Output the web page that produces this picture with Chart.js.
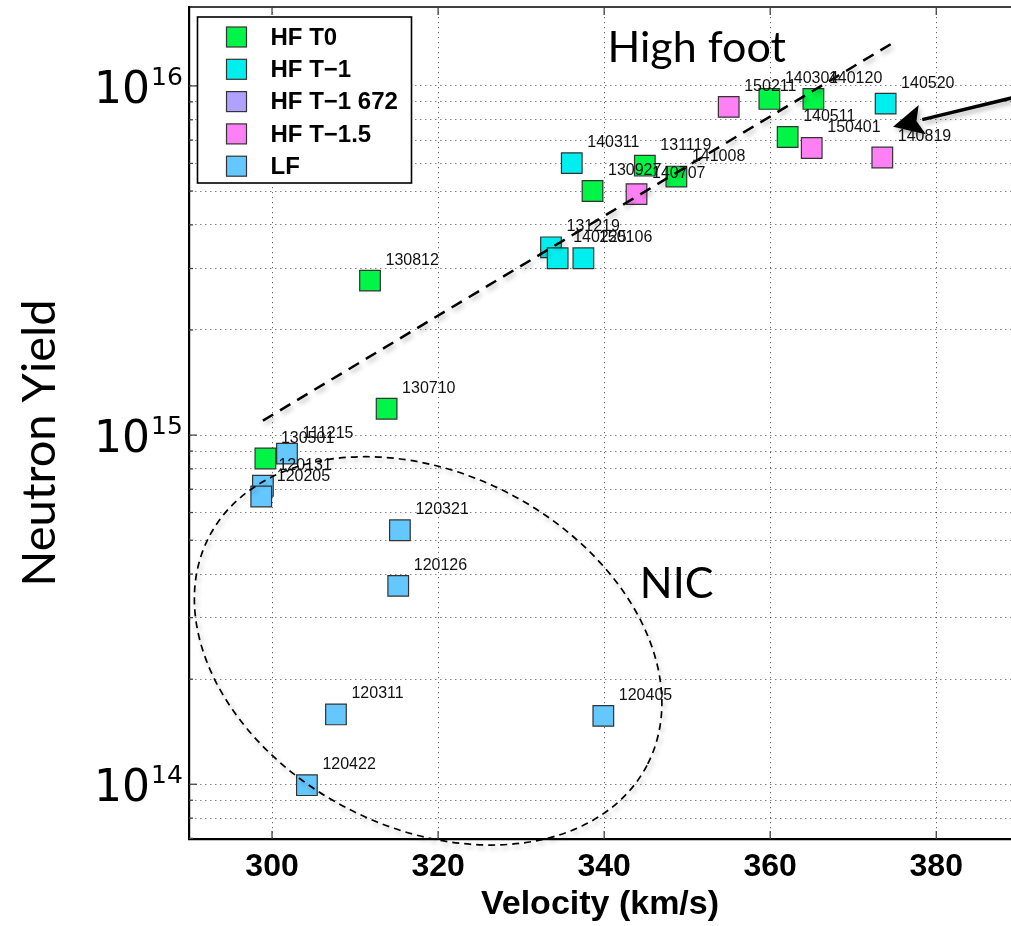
<!DOCTYPE html>
<html>
<head>
<meta charset="utf-8">
<script src="https://cdn.jsdelivr.net/npm/chart.js"></script>
<style>
  html, body { margin: 0; padding: 0; background: #fff; }
</style>
</head>
<body>
<canvas id="myChart" width="1011" height="926"></canvas>
<script>
// axis ticks
const xTicks = [300, 320, 340, 360, 380];
const yMajorTicks = [1e14, 1e15, 1e16];
const yMinorSteps = [2, 3, 4, 5, 6, 7, 8, 9];

// HF T0
const hfT0Shots = ['140304', '140120', '140511', '131119', '141008', '130927', '130812', '130710', '130501'];
const hfT0Velocity = [359.9, 365.2, 362.1, 344.9, 348.7, 338.6, 311.8, 313.8, 299.2];
const hfT0Yield = [9.18e15, 9.18e15, 7.14e15, 5.91e15, 5.50e15, 5.00e15, 2.77e15, 1.19e15, 8.57e14];

// HF T-1
const hfT1Shots = ['140520', '140311', '131219', '140225', '150106'];
const hfT1Velocity = [373.9, 336.1, 333.6, 334.4, 337.5];
const hfT1Yield = [8.90e15, 6.01e15, 3.45e15, 3.21e15, 3.21e15];

// HF T-1 672 (legend only)
const hfT1672Shots = [];
const hfT1672Velocity = [];
const hfT1672Yield = [];

// HF T-1.5
const hfT15Shots = ['150211', '150401', '140819', '140707'];
const hfT15Velocity = [355.0, 365.0, 373.5, 343.9];
const hfT15Yield = [8.71e15, 6.64e15, 6.24e15, 4.90e15];

// LF
const lfShots = ['111215', '120131', '120205', '120321', '120126', '120311', '120405', '120422'];
const lfVelocity = [301.8, 298.9, 298.7, 315.4, 315.2, 307.7, 339.9, 304.2];
const lfYield = [8.85e14, 7.16e14, 6.67e14, 5.34e14, 3.70e14, 1.585e14, 1.57e14, 9.94e13];

// "High foot" trend line
const fitVelocity = [298.9, 374.7];
const fitYield = [1.10e15, 1.325e16];

// annotations (data coords)
const arrowTail = [390, 9.35e15];
const arrowTip = [374.8, 7.645e15];
const nicCenter = [318.8, 2.41e14];
const highFootPos = [340.4, 1.17e16];
const nicPos = [344.3, 3.42e14];

const pts = (xs, ys) => xs.map((x, i) => ({x: x, y: ys[i]}));

function series(label, xs, ys, shots, color) {
  return {
    label: label,
    data: pts(xs, ys),
    shots: shots,
    inLegend: true,
    pointStyle: 'rect',
    pointRadius: 14.6,
    pointHoverRadius: 14.6,
    backgroundColor: color,
    borderColor: '#333',
    borderWidth: 1.2
  };
}

const overlay = {
  id: 'overlay',
  beforeDatasetDraw(chart, args) {
    const ds = chart.data.datasets[args.index];
    if (ds.shadow) {
      const ctx = chart.ctx;
      ctx.save();
      ctx.shadowColor = 'rgba(0,0,0,0.3)';
      ctx.shadowBlur = 5;
      ctx.shadowOffsetX = 2;
      ctx.shadowOffsetY = 3;
    }
  },
  afterDatasetDraw(chart, args) {
    const ds = chart.data.datasets[args.index];
    if (ds.shadow) chart.ctx.restore();
  },
  afterDatasetsDraw(chart) {
    const ctx = chart.ctx;
    ctx.save();
    ctx.font = '16px "Liberation Sans", Arial, sans-serif';
    ctx.fillStyle = '#111';
    ctx.textAlign = 'left';
    ctx.textBaseline = 'alphabetic';
    chart.data.datasets.forEach((ds, i) => {
      if (!ds.shots) return;
      chart.getDatasetMeta(i).data.forEach((el, j) => {
        ctx.fillText(ds.shots[j], el.x + 15.5, el.y - 16);
      });
    });
    ctx.restore();
  },
  afterDraw(chart) {
    const ctx = chart.ctx;
    const a = chart.chartArea;
    const xs = chart.scales.x, ys = chart.scales.y;
    ctx.save();

    // top border
    ctx.strokeStyle = '#000';
    ctx.lineWidth = 1.5;
    ctx.beginPath();
    ctx.moveTo(a.left, a.top);
    ctx.lineTo(a.right, a.top);
    ctx.stroke();

    // inward tick marks
    ctx.strokeStyle = '#444';
    ctx.lineWidth = 1.3;
    xs.ticks.forEach(t => {
      const px = xs.getPixelForValue(t.value);
      ctx.beginPath();
      ctx.moveTo(px, a.bottom); ctx.lineTo(px, a.bottom - 8);
      ctx.moveTo(px, a.top); ctx.lineTo(px, a.top + 8);
      ctx.stroke();
    });
    ys.ticks.forEach(t => {
      const py = ys.getPixelForValue(t.value);
      const len = yMajorTicks.includes(t.value) ? 8 : 4;
      ctx.beginPath();
      ctx.moveTo(a.left, py); ctx.lineTo(a.left + len, py);
      ctx.stroke();
    });

    // y tick labels 10^n
    ctx.fillStyle = '#000';
    yMajorTicks.forEach(v => {
      const py = ys.getPixelForValue(v);
      ctx.font = '44px "DejaVu Sans", sans-serif';
      ctx.textAlign = 'right';
      ctx.textBaseline = 'alphabetic';
      ctx.fillText('10', 150, py + 17);
      ctx.font = '25px "DejaVu Sans", sans-serif';
      ctx.textAlign = 'left';
      ctx.fillText(String(Math.round(Math.log10(v))), 151, py - 1);
    });

    // y title
    ctx.save();
    ctx.translate(55, 443);
    ctx.rotate(-Math.PI / 2);
    ctx.font = '47px Lato, sans-serif';
    ctx.textAlign = 'center';
    ctx.textBaseline = 'alphabetic';
    ctx.fillText('Neutron Yield', 0, 0);
    ctx.restore();

    // shadowed annotations
    ctx.save();
    ctx.shadowColor = 'rgba(0,0,0,0.3)';
    ctx.shadowBlur = 5;
    ctx.shadowOffsetX = 2;
    ctx.shadowOffsetY = 3;

    // NIC ellipse
    ctx.strokeStyle = '#000';
    ctx.lineWidth = 1.7;
    ctx.setLineDash([7, 5]);
    ctx.beginPath();
    ctx.ellipse(xs.getPixelForValue(nicCenter[0]), ys.getPixelForValue(nicCenter[1]),
      247, 177, 27.6 * Math.PI / 180, 0, Math.PI * 2);
    ctx.stroke();
    ctx.setLineDash([]);

    // arrow
    const sx = xs.getPixelForValue(arrowTail[0]), sy = ys.getPixelForValue(arrowTail[1]);
    const tx = xs.getPixelForValue(arrowTip[0]), ty = ys.getPixelForValue(arrowTip[1]);
    const ang = Math.atan2(ty - sy, tx - sx);
    const headLen = 30, headHalf = 15;
    const bx = tx - headLen * Math.cos(ang), by = ty - headLen * Math.sin(ang);
    ctx.lineWidth = 3.5;
    ctx.beginPath();
    ctx.moveTo(sx, sy); ctx.lineTo(bx, by);
    ctx.stroke();
    ctx.fillStyle = '#000';
    ctx.beginPath();
    ctx.moveTo(tx, ty);
    ctx.lineTo(bx + headHalf * Math.sin(ang), by - headHalf * Math.cos(ang));
    ctx.lineTo(bx + 6 * Math.cos(ang), by + 6 * Math.sin(ang));
    ctx.lineTo(bx - headHalf * Math.sin(ang), by + headHalf * Math.cos(ang));
    ctx.closePath();
    ctx.fill();
    ctx.restore();

    // text annotations
    ctx.fillStyle = '#000';
    ctx.font = '43px Lato, sans-serif';
    ctx.textAlign = 'left';
    ctx.textBaseline = 'alphabetic';
    ctx.fillText('High foot', xs.getPixelForValue(highFootPos[0]), ys.getPixelForValue(highFootPos[1]));
    ctx.fillText('NIC', xs.getPixelForValue(nicPos[0]), ys.getPixelForValue(nicPos[1]));

    // legend box
    const lx = a.left + 8.5, ly = a.top + 10, lw = 214, lh = 166;
    ctx.fillStyle = '#fff';
    ctx.fillRect(lx, ly, lw, lh);
    ctx.strokeStyle = '#000';
    ctx.lineWidth = 1.6;
    ctx.strokeRect(lx, ly, lw, lh);
    const entries = chart.data.datasets.filter(d => d.inLegend);
    ctx.font = 'bold 24px "Liberation Sans", Arial, sans-serif';
    ctx.textBaseline = 'middle';
    entries.forEach((d, i) => {
      const cy = ly + 20 + i * 32.3;
      ctx.fillStyle = d.backgroundColor;
      ctx.fillRect(lx + 29, cy - 10, 20, 20);
      ctx.strokeStyle = '#333';
      ctx.lineWidth = 1.2;
      ctx.strokeRect(lx + 29, cy - 10, 20, 20);
      ctx.fillStyle = '#000';
      ctx.fillText(d.label, lx + 73, cy + 1);
    });
    ctx.restore();
  }
};

const ctx = document.getElementById('myChart');
new Chart(ctx, {
  type: 'scatter',
  data: {
    datasets: [
      {
        label: 'fit',
        type: 'line',
        data: pts(fitVelocity, fitYield),
        showLine: true,
        borderColor: '#000',
        borderWidth: 2.5,
        borderDash: [12, 8],
        pointRadius: 0,
        fill: false,
        shadow: true,
        order: -1
      },
      series('HF T0', hfT0Velocity, hfT0Yield, hfT0Shots, 'rgb(0,245,70)'),
      series('HF T\u22121', hfT1Velocity, hfT1Yield, hfT1Shots, 'rgb(0,238,238)'),
      series('HF T\u22121 672', hfT1672Velocity, hfT1672Yield, hfT1672Shots, 'rgb(176,160,255)'),
      series('HF T\u22121.5', hfT15Velocity, hfT15Yield, hfT15Shots, 'rgb(255,128,245)'),
      series('LF', lfVelocity, lfYield, lfShots, 'rgb(100,200,255)')
    ]
  },
  options: {
    responsive: false,
    animation: false,
    layout: { autoPadding: false, padding: { top: 7, right: 0, bottom: 0, left: 0 } },
    plugins: { legend: { display: false }, tooltip: { enabled: false } },
    scales: {
      x: {
        type: 'linear',
        min: 290,
        max: 389,
        afterBuildTicks: s => { s.ticks = xTicks.map(v => ({value: v})); },
        afterFit: s => { s.height = 87; s.paddingLeft = 0; s.paddingRight = 0; },
        grid: { color: 'rgba(0,0,0,0.6)', lineWidth: 1, drawTicks: false },
        border: { color: '#000', width: 2.2, dash: [1.2, 3.8] },
        ticks: {
          color: '#000',
          padding: 9,
          autoSkip: false,
          maxRotation: 0,
          font: { family: '"Liberation Sans", Arial, sans-serif', size: 32, weight: 'bold' }
        },
        title: {
          display: true,
          text: 'Velocity (km/s)',
          color: '#000',
          padding: { top: 0, bottom: 1 },
          font: { family: '"Liberation Sans", Arial, sans-serif', size: 34, weight: 'bold' }
        }
      },
      y: {
        type: 'logarithmic',
        min: 6.97e13,
        max: 1.683e16,
        afterBuildTicks: s => {
          const t = [];
          yMajorTicks.concat([1e13]).forEach(p => {
            [1].concat(yMinorSteps).forEach(m => {
              const v = m * p;
              if (v > s.min && v < s.max) t.push({value: v});
            });
          });
          s.ticks = t.sort((p, q) => p.value - q.value);
        },
        afterFit: s => { s.width = 189; s.paddingTop = 0; s.paddingBottom = 0; },
        grid: { color: 'rgba(0,0,0,0.6)', lineWidth: 1, drawTicks: false },
        border: { color: '#000', width: 2.2, dash: [1.2, 3.8] },
        ticks: { display: false }
      }
    }
  },
  plugins: [overlay]
});
</script>
</body>
</html>
